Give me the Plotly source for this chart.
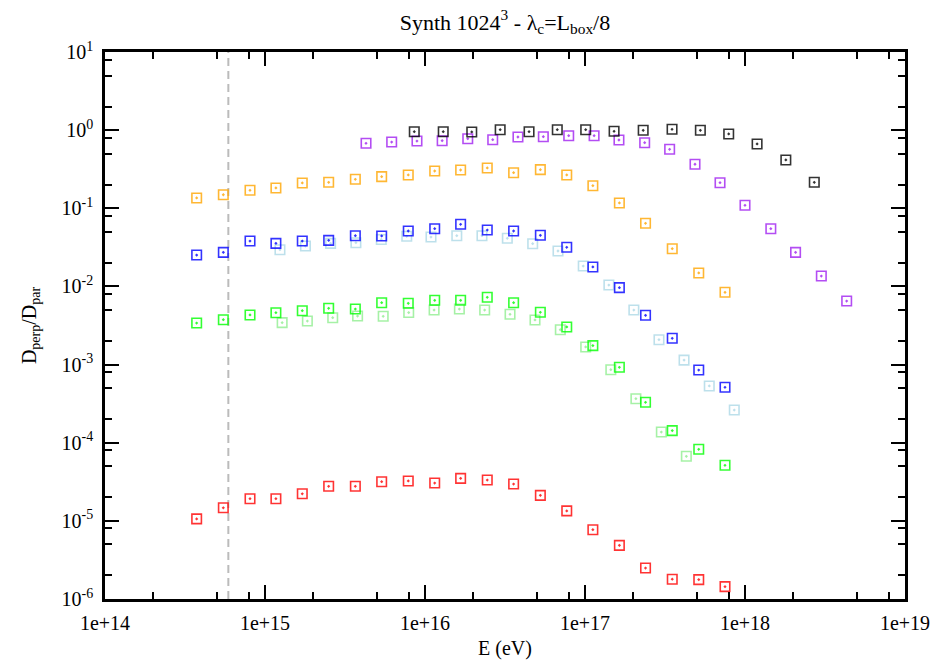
import plotly.graph_objects as go

# ---------------- data ----------------
E_main = [3.74e14, 5.49e14, 8.06e14, 1.17e15, 1.71e15, 2.50e15, 3.67e15, 5.36e15,
          7.86e15, 1.15e16, 1.67e16, 2.45e16, 3.58e16, 5.26e16, 7.69e16, 1.12e17,
          1.64e17, 2.39e17, 3.51e17, 5.14e17, 7.50e17]

D_red = [1.06e-5, 1.47e-5, 1.92e-5, 1.92e-5, 2.22e-5, 2.77e-5, 2.77e-5, 3.17e-5,
         3.24e-5, 3.05e-5, 3.50e-5, 3.33e-5, 2.96e-5, 2.12e-5, 1.34e-5, 7.7e-6,
         4.86e-6, 2.49e-6, 1.79e-6, 1.77e-6, 1.44e-6]
D_green = [3.40e-3, 3.75e-3, 4.31e-3, 4.61e-3, 4.89e-3, 5.25e-3, 5.14e-3, 6.19e-3,
           6.08e-3, 6.64e-3, 6.64e-3, 7.26e-3, 6.19e-3, 4.67e-3, 3.03e-3, 1.75e-3,
           9.23e-4, 3.29e-4, 1.43e-4, 8.24e-5, 5.14e-5]
D_blue = [0.0252, 0.0273, 0.0381, 0.0356, 0.0381, 0.0389, 0.0446, 0.0442,
          0.0512, 0.0548, 0.0624, 0.0527, 0.0512, 0.0451, 0.0317, 0.01774,
          9.64e-3, 4.27e-3, 2.17e-3, 8.51e-4, 5.12e-4]
D_orange = [0.1355, 0.149, 0.170, 0.182, 0.211, 0.215, 0.235, 0.254,
            0.267, 0.300, 0.309, 0.328, 0.285, 0.312, 0.267, 0.1945,
            0.117, 0.0643, 0.0304, 0.01486, 0.00841]

E_lightblue = [1.24e15, 1.79e15, 2.57e15, 3.70e15, 5.33e15, 7.69e15, 1.09e16,
               1.58e16, 2.27e16, 3.27e16, 4.71e16, 6.78e16, 9.75e16, 1.41e17,
               2.02e17, 2.90e17, 4.16e17, 5.98e17, 8.57e17]
D_lightblue = [0.0295, 0.0329, 0.0356, 0.0363, 0.0399, 0.0438, 0.0429, 0.0446,
               0.0446, 0.0413, 0.0352, 0.0284, 0.01824, 0.01042, 4.99e-3,
               2.08e-3, 1.14e-3, 5.32e-4, 2.62e-4]

E_lightgreen = [1.28e15, 1.84e15, 2.65e15, 3.79e15, 5.48e15, 7.91e15, 1.14e16,
                1.64e16, 2.36e16, 3.40e16, 4.87e16, 7.01e16, 1.01e17, 1.45e17,
                2.08e17, 3.00e17, 4.30e17]
D_lightgreen = [3.44e-3, 3.61e-3, 3.98e-3, 4.18e-3, 4.15e-3, 4.63e-3, 4.99e-3,
                5.14e-3, 4.99e-3, 4.40e-3, 3.72e-3, 2.79e-3, 1.68e-3, 8.59e-4,
                3.66e-4, 1.37e-4, 6.70e-5]

E_purple = [4.28e15, 6.19e15, 8.91e15, 1.28e16, 1.85e16, 2.65e16, 3.81e16, 5.49e16,
            7.91e16, 1.14e17, 1.63e17, 2.36e17, 3.38e17, 4.87e17, 6.98e17, 1.00e18,
            1.45e18, 2.07e18, 3.00e18, 4.32e18]
D_purple = [0.679, 0.705, 0.726, 0.733, 0.777, 0.755, 0.817, 0.824,
            0.849, 0.849, 0.748, 0.690, 0.569, 0.366, 0.2125, 0.1092,
            0.0548, 0.0273, 0.01359, 0.0065]

E_black = [8.57e15, 1.30e16, 1.96e16, 2.95e16, 4.47e16, 6.71e16, 1.01e17, 1.52e17,
           2.31e17, 3.50e17, 5.26e17, 7.91e17, 1.19e18, 1.80e18, 2.71e18]
D_black = [0.955, 0.955, 0.947, 1.013, 0.955, 1.013, 1.013, 0.967,
           0.995, 1.025, 0.995, 0.893, 0.665, 0.415, 0.215]

E_cut = 5.9e14  # vertical dashed reference line

x_tickvals = [1e14, 1e15, 1e16, 1e17, 1e18, 1e19]
x_ticktext = ["1e+14", "1e+15", "1e+16", "1e+17", "1e+18", "1e+19"]
y_tickvals = [1e-6, 1e-5, 1e-4, 1e-3, 1e-2, 1e-1, 1e0, 1e1]
y_ticktext = ["10<sup>-6</sup>", "10<sup>-5</sup>", "10<sup>-4</sup>", "10<sup>-3</sup>",
              "10<sup>-2</sup>", "10<sup>-1</sup>", "10<sup>0</sup>", "10<sup>1</sup>"]
x_minor = [m * 10.0 ** k for k in range(14, 19) for m in (2, 5, 8)]
y_minor = [m * 10.0 ** k for k in range(-6, 1) for m in (2, 5, 8)]

# ---------------- figure ----------------
FONT = "Liberation Serif, Times New Roman, serif"
series = [
    (E_main, D_red, "#ff0000"),
    (E_lightgreen, D_lightgreen, "#90ee90"),
    (E_main, D_green, "#00ff00"),
    (E_lightblue, D_lightblue, "#add8e6"),
    (E_main, D_blue, "#0000ff"),
    (E_main, D_orange, "#ffa500"),
    (E_purple, D_purple, "#a020f0"),
    (E_black, D_black, "#000000"),
]

fig = go.Figure()
for xs, ys, col in series:
    fig.add_trace(go.Scatter(
        x=xs, y=ys, mode="markers",
        marker=dict(symbol="square-open-dot", size=9.5, color=col,
                    line=dict(width=1.6, color=col), opacity=0.8),
        showlegend=False, hoverinfo="x+y"))

fig.add_shape(type="line", xref="x", yref="paper", x0=E_cut, x1=E_cut, y0=0, y1=1,
              line=dict(color="#bbbbbb", width=2, dash="8px,5px"), layer="below")

axis_common = dict(
    showgrid=False, zeroline=False, showline=True, linecolor="black", linewidth=2.5,
    mirror="allticks", ticks="inside", ticklen=14, tickwidth=2, tickcolor="black",
    automargin=False, tickfont=dict(family=FONT, size=20, color="black"),
)

fig.update_layout(
    width=933, height=664,
    margin=dict(l=105, r=28, t=52, b=65),
    paper_bgcolor="white", plot_bgcolor="white",
    font=dict(family=FONT, size=20, color="black"),
    title=dict(text="Synth 1024<sup>3</sup> - λ<sub>c</sub>=L<sub>box</sub>/8",
               x=0.5, xref="paper", y=1 - 22 / 664, yref="container",
               xanchor="center", yanchor="middle",
               font=dict(family=FONT, size=22, color="black")),
    xaxis=dict(type="log", range=[14, 19], tickmode="array",
               tickvals=x_tickvals, ticktext=x_ticktext, ticklabelstandoff=4,
               title=dict(text="E (eV)", standoff=9, font=dict(family=FONT, size=20)),
               minor=dict(tickmode="array", tickvals=x_minor, ticks="inside",
                          ticklen=7, tickwidth=2, tickcolor="black", showgrid=False),
               **axis_common),
    yaxis=dict(type="log", range=[-6, 1], tickmode="array",
               tickvals=y_tickvals, ticktext=y_ticktext, ticklabelstandoff=5,
               title=dict(text="D<sub>perp</sub>/D<sub>par</sub>", standoff=20,
                          font=dict(family=FONT, size=20)),
               minor=dict(tickmode="array", tickvals=y_minor, ticks="inside",
                          ticklen=7, tickwidth=2, tickcolor="black", showgrid=False),
               **axis_common),
)

fig.write_html("out.html", config={"displayModeBar": False},
               post_script="document.body.style.margin='0';document.body.style.padding='0';")
